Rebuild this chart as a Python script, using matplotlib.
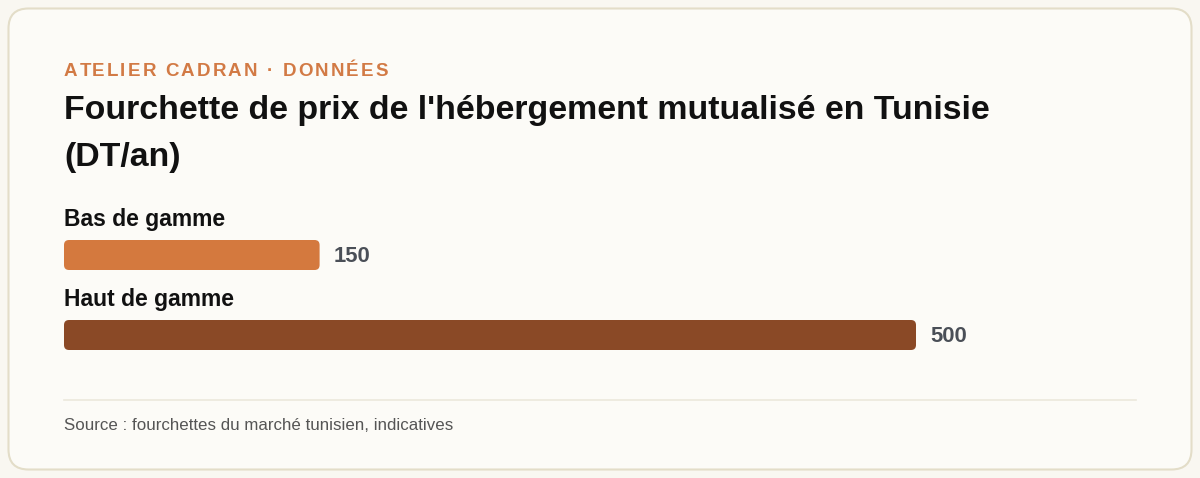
import matplotlib

matplotlib.use("Agg", force=True)
import matplotlib.pyplot as plt
from matplotlib.lines import Line2D
from matplotlib.patches import FancyBboxPatch
from matplotlib.transforms import IdentityTransform

# data
categories = ["Bas de gamme", "Haut de gamme"]
prices = [150, 500]
bar_colors = ["#D4793E", "#8A4926"]

kicker = "ATELIER CADRAN · DONNÉES"
title_lines = [
    "Fourchette de prix de l'hébergement mutualisé en Tunisie",
    "(DT/an)",
]
source = "Source : fourchettes du marché tunisien, indicatives"

W, H = 1200, 478
plt.rcParams["font.family"] = ["Liberation Sans", "DejaVu Sans"]

fig = plt.figure(figsize=(W / 100, H / 100), dpi=100, facecolor="#F9F7F1")
renderer = fig.canvas.get_renderer()


def fy(y):
    return 1 - y / H


# card
card = FancyBboxPatch(
    (8.5, H - 469.5), 1183, 461,
    boxstyle="round,pad=0,rounding_size=20",
    transform=IdentityTransform(),
    facecolor="#FCFBF7", edgecolor="#E3DDC8", linewidth=1.5, zorder=0,
)
fig.add_artist(card)

# kicker with letter spacing
kick_style = dict(fontsize=13.5, fontweight="bold", color="#D27A45", va="baseline", ha="left")


def text_width(s):
    t = fig.text(0, 0, s + "x", **kick_style)
    w = t.get_window_extent(renderer).width
    t.remove()
    t = fig.text(0, 0, "x", **kick_style)
    w -= t.get_window_extent(renderer).width
    t.remove()
    return w


spacing = 2.15
for i, ch in enumerate(kicker):
    x = 64 + text_width(kicker[:i]) + i * spacing if i else 64
    fig.text(x / W, fy(76), ch, **kick_style)

# title
title_style = dict(fontsize=24.4, fontweight="bold", color="#111111", va="baseline")
fig.text(64 / W, fy(119), title_lines[0], **title_style)
fig.text(64 / W, fy(166), title_lines[1], **title_style)

# bars
ax = fig.add_axes([64 / W, 1 - 375 / H, 852 / W, 160 / H])
ax.set_xlim(0, max(prices))
ax.set_ylim(len(prices) - 0.5, -0.5)
ax.axis("off")

ypos = list(range(len(prices)))
bars = ax.barh(ypos, prices, height=0.375, color=bar_colors)
for bar, color in zip(bars, bar_colors):
    (x0, y0), (x1, y1) = ax.transData.transform(
        [(bar.get_x(), bar.get_y()), (bar.get_x() + bar.get_width(), bar.get_y() + bar.get_height())]
    )
    bar.set_visible(False)
    fig.add_artist(FancyBboxPatch(
        (min(x0, x1), min(y0, y1)), abs(x1 - x0), abs(y1 - y0),
        boxstyle="round,pad=0,rounding_size=5",
        transform=IdentityTransform(),
        facecolor=color, edgecolor="none", zorder=2,
    ))

for y, cat, value in zip(ypos, categories, prices):
    ax.text(0, y - 0.3625, cat, fontsize=16.5, fontweight="bold", color="#111111",
            va="baseline", ha="left")
    ax.annotate(f"{value}", xy=(value, y), xytext=(14, -7), textcoords="offset pixels",
                fontsize=15.8, fontweight="bold", color="#4A4F57", va="baseline", ha="left",
                annotation_clip=False)

# footer
fig.add_artist(Line2D([64 / W, 1136 / W], [fy(400), fy(400)], color="#ECE8DC", linewidth=1.2))
fig.text(64 / W, fy(430), source, fontsize=12.2, color="#555555", va="baseline")

fig.savefig("out.png", dpi=100, facecolor=fig.get_facecolor())
